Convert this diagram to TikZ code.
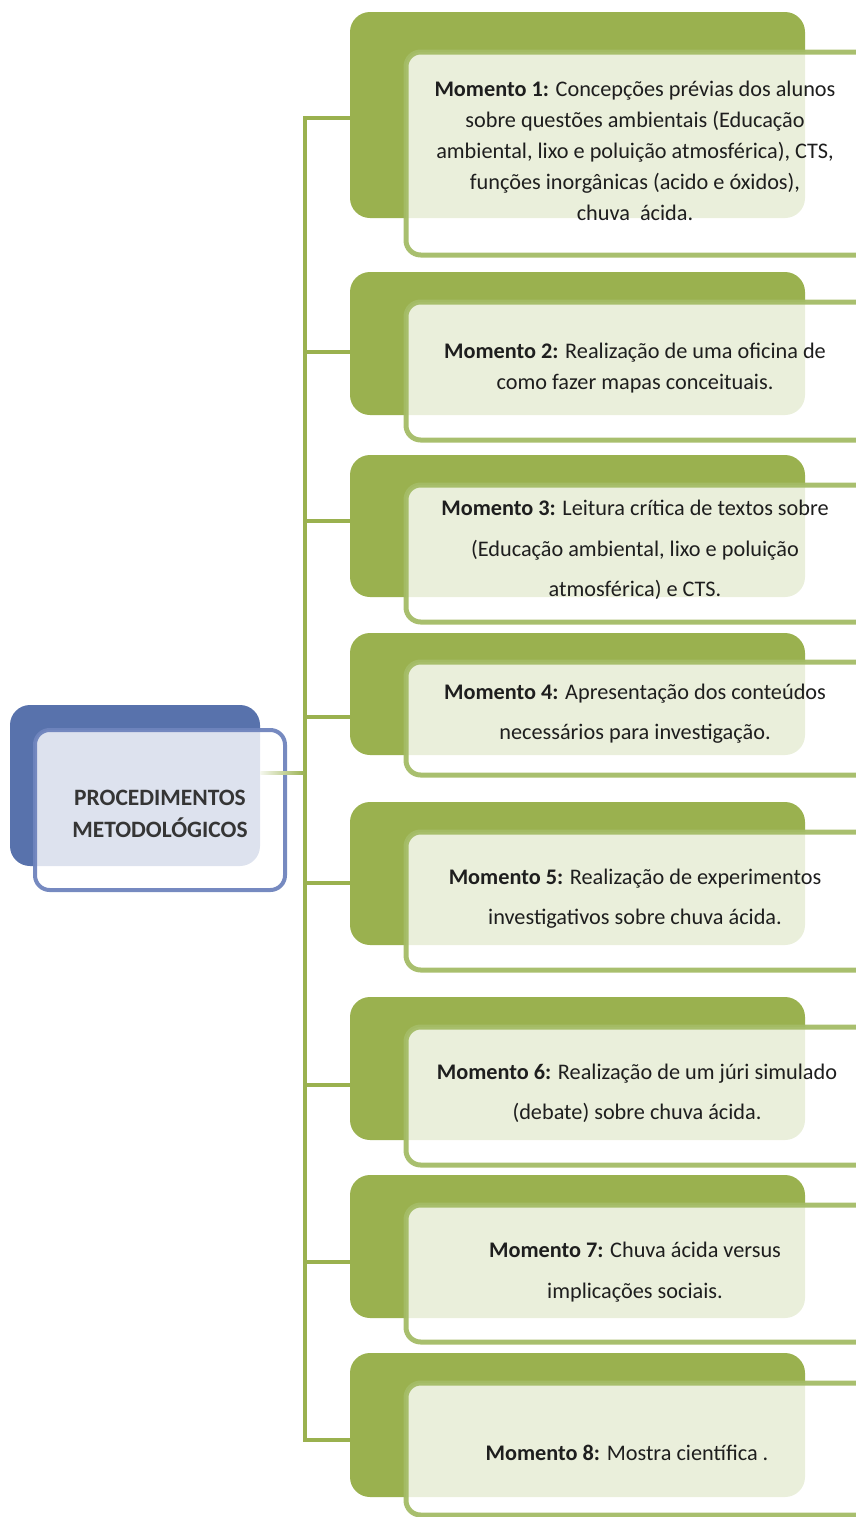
\documentclass[tikz,border=0pt]{standalone}
\usepackage{fontspec}
\setmainfont{Carlito}
\usetikzlibrary{fit,calc}
\definecolor{leaf}{HTML}{9AB14F}
\definecolor{leafedge}{HTML}{A4BC66}
\definecolor{navy}{HTML}{5872AC}
\definecolor{navyedge}{HTML}{6F84BD}
\definecolor{ink}{HTML}{1E1E1E}
\tikzset{
  backbox/.style={fill=leaf, draw=none, rounded corners=15pt, inner sep=0pt},
  frontbox/.style={fill=white, fill opacity=0.8, draw=leafedge, draw opacity=0.95,
    line width=3.75pt, rounded corners=11pt, inner sep=0pt},
  navyback/.style={fill=navy, draw=none, rounded corners=15pt, inner sep=0pt},
  navyfront/.style={fill=white, fill opacity=0.8, draw=navyedge, draw opacity=0.95,
    line width=3pt, rounded corners=11pt, inner sep=0pt},
  trunk/.style={draw=leaf, line width=2.4pt, line join=miter},
  txt/.style={text=ink, align=center, inner sep=0pt,
    font=\fontsize{16.7}{23.25}\selectfont},
  headtxt/.style={text=ink!90, align=center, inner sep=0pt,
    font=\fontsize{17.6}{24}\selectfont\bfseries},
}
\begin{document}
\begin{tikzpicture}[x=0.75pt,y=-0.75pt]
\useasboundingbox (0,0) rectangle (856,1517);
\clip (0,0) rectangle (856,1517);

% stacked step boxes: back panel, front panel and branch point
\foreach \i/\dt/\db/\ft/\fb/\jy in {
  1/12/218/52/255/118,
  2/272/415/302/440/352,
  3/455/597/485/622/521,
  4/633/755/662/775/717,
  5/802/945/832/970/883,
  6/997/1140/1027/1165/1085,
  7/1175/1318/1205/1342/1262,
  8/1353/1497/1383/1515/1440}{
  \node[backbox, fit={(350,\dt) (805,\db)}] (d\i) {};
  \node[frontbox, fit={(406,\ft) (875,\fb)}] (f\i) {};
  \coordinate (j\i) at (305,\jy);
}

% the vertical trunk with its branches
\draw[trunk] (j1 -| d1.west) -- (j1) -- (j8) -- (j8 -| d8.west);
\foreach \i in {2,...,7}{
  \draw[trunk] (j\i) -- (j\i -| d\i.west);
}

% root box
\node[navyback, fit={(10,705) (260,866)}] (rb) {};
\node[navyfront, fit={(35,730) (285,890)}] (rf) {};
\coordinate (jr) at (305,773);
\shade[left color=leaf!10, right color=leaf]
  ($(rb.east |- jr)+(0,-1.6)$) rectangle ($(jr)+(0,1.6)$);
\node[headtxt] (root) at (160,814) {PROCEDIMENTOS\\METODOLÓGICOS};

% step texts
\node[txt] (m1) at (635,151) {\textbf{Momento 1:} Concepções prévias dos alunos\\
  sobre questões ambientais (Educação\\
  ambiental, lixo e poluição atmosférica), CTS,\\
  funções inorgânicas (acido e óxidos),\\
  chuva\ \ ácida.};
\node[txt] (m2) at (635,368) {\textbf{Momento 2:} Realização de uma oficina de\\
  como fazer mapas conceituais.};
\node[txt] (m3) at (635,550) {\textbf{Momento 3:} Leitura crítica de textos sobre\\[7pt]
  (Educação ambiental, lixo e poluição\\[7pt]
  atmosférica) e CTS.};
\node[txt] (m4) at (635,714) {\textbf{Momento 4:} Apresentação dos conteúdos\\[7pt]
  necessários para investigação.};
\node[txt] (m5) at (635,899) {\textbf{Momento 5:} Realização de experimentos\\[7pt]
  investigativos sobre chuva ácida.};
\node[txt] (m6) at (637,1093) {\textbf{Momento 6:} Realização de um júri simulado\\[7pt]
  (debate) sobre chuva ácida.};
\node[txt] (m7) at (635,1272) {\textbf{Momento 7:} Chuva ácida versus\\[7pt]
  implicações sociais.};
\node[txt] (m8) at (627,1453) {\textbf{Momento 8:} Mostra científica .};
\end{tikzpicture}
\end{document}
